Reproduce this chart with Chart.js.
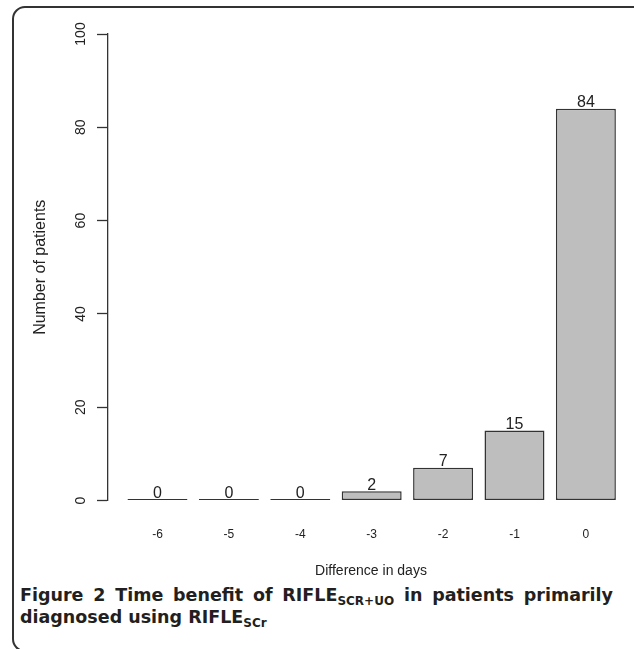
<!DOCTYPE html>
<html>
<head>
<meta charset="utf-8">
<script src="https://cdn.jsdelivr.net/npm/chart.js@4/dist/chart.umd.min.js"></script>
<style>
html,body{margin:0;padding:0;background:#fff;width:634px;height:649px;overflow:hidden;position:relative;}
#frame{position:absolute;left:12px;top:6px;width:640px;height:646px;border:2px solid #333;border-radius:13px;box-sizing:border-box;}
#c{position:absolute;left:0;top:0;}
#caption{position:absolute;left:20px;top:585px;width:593px;font-family:'DejaVu Sans',sans-serif;font-weight:bold;font-size:17.5px;line-height:20px;color:#231f20;text-align:justify;}
.sub{font-size:12px;position:relative;top:4px;}
</style>
</head>
<body>
<div id="frame"></div>
<canvas id="c" width="634" height="585"></canvas>
<div id="caption"><span>Figure 2</span> Time benefit of RIFLE<span class="sub">SCR+UO</span> in patients primarily diagnosed using RIFLE<span class="sub">SCr</span></div>
<script>
const categories = ["-6", "-5", "-4", "-3", "-2", "-1", "0"];
const patients = [0, 0, 0, 2, 7, 15, 84];
const yTicks = [0, 20, 40, 60, 80, 100];
const xTitle = "Difference in days";
const yTitle = "Number of patients";

const FONT = "'Liberation Sans', Arial, Helvetica, sans-serif";
const TEXT = '#222';

const valueLabels = {
  id: 'valueLabels',
  afterDatasetsDraw(chart) {
    const ctx = chart.ctx;
    const meta = chart.getDatasetMeta(0);
    ctx.save();
    ctx.font = '16px ' + FONT;
    ctx.fillStyle = TEXT;
    ctx.textAlign = 'center';
    ctx.textBaseline = 'alphabetic';
    meta.data.forEach((bar, i) => {
      ctx.fillText(String(patients[i]), bar.x, bar.y - 1.5);
    });
    ctx.restore();
  }
};

new Chart(document.getElementById('c'), {
  type: 'bar',
  data: {
    datasets: [{
      data: categories.map((c, i) => ({x: i, y: patients[i]})),
      backgroundColor: '#bebebe',
      borderColor: '#333',
      borderWidth: 1.5,
      borderSkipped: false,
      minBarLength: 1.5,
      barPercentage: 0.84,
      categoryPercentage: 1
    }]
  },
  options: {
    responsive: false,
    animation: false,
    devicePixelRatio: 1,
    layout: {padding: {top: 34, right: 0, bottom: 0, left: 0}},
    plugins: {legend: {display: false}, tooltip: {enabled: false}},
    scales: {
      x: {
        type: 'linear',
        min: -0.693,
        max: 6.674,
        offset: false,
        afterBuildTicks(s) { s.ticks = categories.map((c, i) => ({value: i})); },
        afterFit(s) { s.height = 84.5; },
        grid: {display: false, drawTicks: false, tickLength: 0},
        border: {display: false},
        ticks: {
          callback: (v) => categories[v],
          font: {size: 12, family: FONT},
          color: TEXT,
          padding: 26.5,
          maxRotation: 0,
          autoSkip: false
        },
        title: {display: true, text: xTitle, font: {size: 14, family: FONT}, color: TEXT, padding: {top: 0, bottom: 5}}
      },
      y: {
        min: 0,
        max: 100,
        afterBuildTicks(s) { s.ticks = yTicks.map(v => ({value: v})); },
        afterFit(s) { s.width = 108; },
        grid: {drawOnChartArea: false, drawTicks: true, tickLength: 11, tickColor: '#333', tickWidth: 1.3},
        border: {display: true, color: '#333', width: 1.3},
        ticks: {
          minRotation: 90,
          maxRotation: 90,
          crossAlign: 'center',
          padding: 4,
          font: {size: 14, family: FONT},
          color: TEXT
        },
        title: {display: true, text: yTitle, font: {size: 16, family: FONT}, color: TEXT, padding: {top: 31, bottom: 0}}
      }
    }
  },
  plugins: [valueLabels]
});
</script>
</body>
</html>
